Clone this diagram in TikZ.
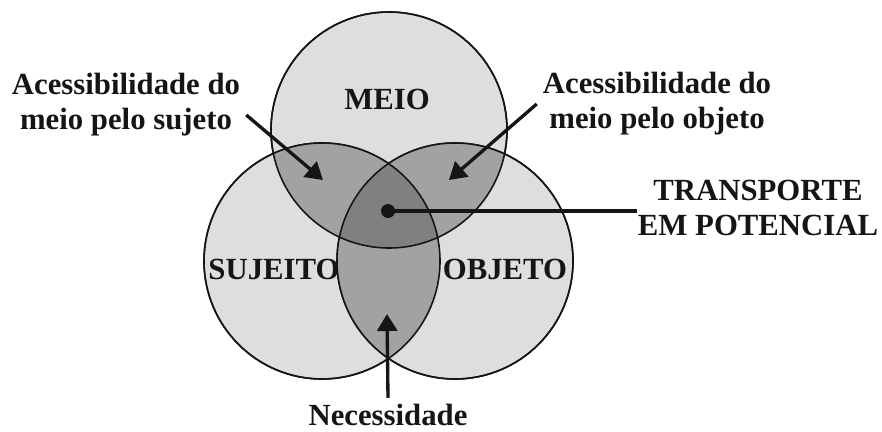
\documentclass[tikz,border=0pt]{standalone}
\usepackage{fontspec}
\setmainfont{Liberation Serif}
\usepackage{xcolor}
\usetikzlibrary{arrows.meta, positioning, calc}

\definecolor{vennlight}{HTML}{DEDEDE}
\definecolor{vennmid}{HTML}{A2A2A2}
\definecolor{venndark}{HTML}{808080}
\definecolor{inkc}{HTML}{151515}

\begin{document}
\begin{tikzpicture}[
  venn/.style  = {draw=inkc, line width=0.9pt, fill=vennlight, circle,
                  minimum size=4.72cm, inner sep=0pt},
  lbl/.style   = {font=\bfseries\fontsize{17.5}{19.8}\selectfont,
                  align=center, text=inkc},
  arr/.style   = {-{Triangle[length=0.34cm, width=0.4cm]}, line width=1.9pt, draw=inkc},
]
\useasboundingbox (0,0) rectangle (17.64,-8.64);

\node[venn] (meio)    at (7.78,-2.60) {};
\node[venn] (sujeito) at (6.44,-5.22) {};
\node[venn] (objeto)  at (9.10,-5.22) {};

% pairwise overlaps
\begin{scope}
  \clip (meio) circle (2.36);
  \fill[vennmid] (sujeito) circle (2.36);
  \fill[vennmid] (objeto) circle (2.36);
\end{scope}
\begin{scope}
  \clip (sujeito) circle (2.36);
  \fill[vennmid] (objeto) circle (2.36);
\end{scope}
% triple overlap
\begin{scope}
  \clip (meio) circle (2.36);
  \clip (sujeito) circle (2.36);
  \fill[venndark] (objeto) circle (2.36);
\end{scope}

\foreach \c in {meio, sujeito, objeto}
  \draw[inkc, line width=0.9pt] (\c) circle (2.36);

\node[lbl] (lmeio) at (7.74,-1.98) {MEIO};
\node[lbl] (lsuj)  at (5.48,-5.38) {SUJEITO};
\node[lbl] (lobj)  at (10.10,-5.38) {OBJETO};

\node[lbl] (accsuj) at (2.52,-2.10) {Acessibilidade do\\meio pelo sujeto};
\node[lbl] (accobj) at (13.14,-2.08) {Acessibilidade do\\meio pelo objeto};
\node[lbl] (transp) at (15.16,-4.16) {TRANSPORTE\\EM POTENCIAL};
\node[lbl] (nec)    at (7.76,-8.30) {Necessidade};

\coordinate (tipsuj) at (6.46,-3.60);
\coordinate (tipobj) at (8.98,-3.60);
\coordinate (tipnec) at (7.74,-6.28);

\draw[arr] (accsuj.east) ++(0,-0.2) -- (tipsuj);
\draw[arr] (accobj.west) -- (tipobj);
\draw[arr] (nec.north) -- (tipnec);

% potential transport marker
\node[circle, fill=inkc, minimum size=0.28cm, inner sep=0pt] (dot) at (7.76,-4.22) {};
\draw[inkc, line width=1.9pt] (dot.center) -- ($(dot -| transp.west)+(0.1,0)$);

\end{tikzpicture}
\end{document}
